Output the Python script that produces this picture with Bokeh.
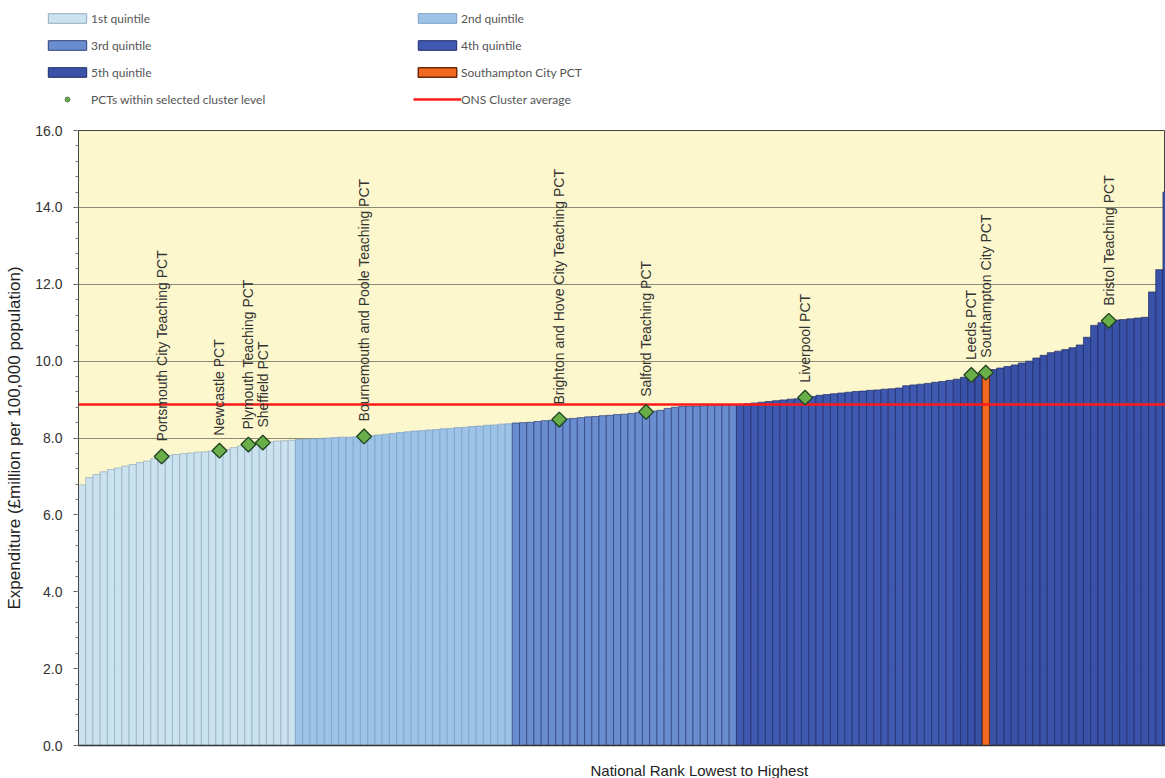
import math
import numpy as np
from bokeh.plotting import figure
from bokeh.layouts import column
from bokeh.models import (Range1d, SingleIntervalTicker, NumeralTickFormatter, FixedTicker,
                          Legend, LegendItem, Title)
from bokeh.core.properties import value
from bokeh.embed import file_html
from bokeh.resources import INLINE

# ---------------- data ----------------
expenditure = [
    # 1st quintile
    6.78, 6.97, 7.05, 7.12, 7.18, 7.22, 7.27, 7.31, 7.36, 7.40,
    7.46, 7.52, 7.55, 7.57, 7.59, 7.61, 7.63, 7.64, 7.66, 7.67,
    7.70, 7.75, 7.79, 7.83, 7.86, 7.88, 7.90, 7.92, 7.93, 7.94,
    # 2nd quintile
    7.96, 7.97, 7.98, 7.99, 8.00, 8.01, 8.02, 8.02, 8.03, 8.04,
    8.06, 8.08, 8.10, 8.12, 8.14, 8.16, 8.18, 8.19, 8.21, 8.22,
    8.24, 8.25, 8.27, 8.28, 8.30, 8.31, 8.33, 8.34, 8.36, 8.37,
    # 3rd quintile
    8.39, 8.40, 8.41, 8.43, 8.45, 8.46, 8.48, 8.50, 8.51, 8.53,
    8.55, 8.56, 8.58, 8.59, 8.61, 8.62, 8.64, 8.66, 8.68, 8.70,
    8.72, 8.77, 8.80, 8.82, 8.83, 8.83, 8.84, 8.84, 8.85, 8.85, 8.86,
    # 4th quintile
    8.87, 8.89, 8.91, 8.93, 8.95, 8.97, 8.99, 9.01, 9.02, 9.05,
    9.08, 9.11, 9.13, 9.15, 9.17, 9.19, 9.21, 9.22, 9.24, 9.25,
    9.27, 9.28, 9.30, 9.36, 9.38, 9.40, 9.42, 9.45, 9.47, 9.50,
    # 5th quintile (visible part)
    9.53, 9.58, 9.64, 9.66, 9.70, 9.78, 9.82, 9.86, 9.90, 9.95,
    10.00, 10.08, 10.15, 10.22, 10.26, 10.30, 10.35, 10.42, 10.62, 10.93,
    11.00, 11.05, 11.07, 11.08, 11.10, 11.12, 11.14, 11.80, 12.38, 14.40,
]

quintile_sizes = [30, 30, 31, 30, 31]
quintile_labels = ["1st quintile", "2nd quintile", "3rd quintile", "4th quintile", "5th quintile"]
quintile_fill = ["#cbe2ef", "#9dc3e6", "#6a8dd0", "#3f58b0", "#3a51a8"]
quintile_line = ["#93aac0", "#7d9fc4", "#2c3f78", "#1e2c68", "#1c2a64"]

cluster_names = [
    "Portsmouth City Teaching PCT", "Newcastle PCT", "Plymouth Teaching PCT",
    "Sheffield PCT", "Bournemouth and Poole Teaching PCT",
    "Brighton and Hove City Teaching PCT", "Salford Teaching PCT", "Liverpool PCT",
    "Leeds PCT", "Southampton City PCT", "Bristol Teaching PCT",
]
cluster_ranks = [11, 19, 23, 25, 39, 66, 78, 100, 123, 125, 142]

southampton_rank = 125
southampton_label = "Southampton City PCT"
cluster_marker_label = "PCTs within selected cluster level"
ons_label = "ONS Cluster average"
ons_cluster_average = 8.87

y_title = "Expenditure (£million per 100,000 population)"
x_title = "National Rank Lowest to Highest"

SOTON_FILL, SOTON_LINE = "#f26a21", "#6e2a08"
ONS_COLOR = "#ff1a1a"
PCT_FILL, PCT_LINE = "#6aae4a", "#1d4020"


def no_align(fig):
    try:
        fig.frame_align = False
    except AttributeError:
        pass


# ---------------- main chart ----------------
n = len(expenditure)
p = figure(width=1165, height=632,
           x_range=Range1d(-0.5, 149.85), y_range=Range1d(0, 16),
           output_backend="svg", toolbar_location=None,
           min_border_left=78, min_border_right=0, min_border_top=8, min_border_bottom=9,
           background_fill_color="#fcf7cc", border_fill_color="white")
no_align(p)

p.outline_line_color = "#444444"
p.xgrid.grid_line_color = None
p.ygrid.grid_line_color = "#8c8c74"
p.ygrid.grid_line_width = 1

p.yaxis.ticker = SingleIntervalTicker(interval=2, num_minor_ticks=5)
p.yaxis.formatter = NumeralTickFormatter(format="0.0")
p.yaxis.axis_line_color = "#444444"
p.yaxis.major_tick_out = 5
p.yaxis.major_tick_in = 0
p.yaxis.minor_tick_out = 3
p.yaxis.minor_tick_in = 0
p.yaxis.major_tick_line_color = "#555555"
p.yaxis.minor_tick_line_color = "#777777"
p.yaxis.major_label_standoff = 11
p.yaxis.major_label_text_font = "Liberation Sans"
p.yaxis.major_label_text_font_size = "14px"
p.yaxis.major_label_text_color = "#333333"
p.yaxis.axis_label = y_title
p.yaxis.axis_label_text_font = "Liberation Sans"
p.yaxis.axis_label_text_font_size = "17px"
p.yaxis.axis_label_text_font_style = "normal"
p.yaxis.axis_label_text_color = "#222222"
p.yaxis.axis_label_standoff = 8

p.xaxis.ticker = FixedTicker(ticks=[])
p.xaxis.axis_line_color = "#333333"
p.xaxis.axis_line_width = 1.5

quintile_renderers = []
start = 0
for size, fill, line in zip(quintile_sizes, quintile_fill, quintile_line):
    idx = list(range(start, min(start + size, n)))
    r = p.vbar(x=idx, top=[expenditure[i] for i in idx], width=1.0, bottom=0,
               fill_color=fill, line_color=line, line_width=0.7)
    quintile_renderers.append(r)
    start += size

p.vbar(x=[southampton_rank], top=[expenditure[southampton_rank]], width=1.0, bottom=0,
       fill_color=SOTON_FILL, line_color=SOTON_LINE, line_width=1)

p.line(x=[-0.5, n - 0.5], y=[ons_cluster_average, ons_cluster_average],
       line_color=ONS_COLOR, line_width=2.5)

cluster_vals = [expenditure[i] for i in cluster_ranks]
p.scatter(x=cluster_ranks, y=cluster_vals, marker="square", angle=math.pi / 4,
          size=10.5, fill_color=PCT_FILL, line_color=PCT_LINE, line_width=1.3)

p.text(x=cluster_ranks, y=cluster_vals, text=cluster_names, angle=math.pi / 2,
       text_align="left", text_baseline="middle", y_offset=-15,
       text_font=value("Liberation Sans"), text_font_size="14px", text_color="#333333")

# ---------------- x-axis title strip ----------------
# (the original chart continued to the right of this crop, so its title centre lies right)
st = figure(width=1165, height=24, x_range=Range1d(0, 1), y_range=Range1d(0, 1),
            output_backend="svg", toolbar_location=None, min_border=0,
            x_axis_location=None, y_axis_location=None, outline_line_color=None,
            background_fill_color="white", border_fill_color="white")
st.xgrid.grid_line_color = None
st.ygrid.grid_line_color = None
no_align(st)
st.add_layout(Title(text=x_title, align="left", offset=590, standoff=0, vertical_align="bottom",
                    text_font="Liberation Sans", text_font_size="15px",
                    text_font_style="normal", text_color="#222222"), "below")

# ---------------- legend strip ----------------
lg = figure(width=1165, height=122, x_range=Range1d(0, 1), y_range=Range1d(0, 1),
            output_backend="svg", toolbar_location=None, min_border=0,
            x_axis_location=None, y_axis_location=None, outline_line_color=None,
            background_fill_color="white", border_fill_color="white")
lg.xgrid.grid_line_color = None
lg.ygrid.grid_line_color = None
no_align(lg)

# legend proxies: one undrawn (NaN) point each, only their styles are used by the legend
nan1 = np.array([np.nan])
leg_q = [lg.vbar(x=nan1, top=nan1, width=1, fill_color=f, line_color=l, line_width=1)
         for f, l in zip(quintile_fill, quintile_line)]
leg_soton = lg.vbar(x=nan1, top=nan1, width=1, fill_color=SOTON_FILL, line_color=SOTON_LINE,
                    line_width=1.5)
leg_pct = lg.scatter(x=nan1, y=nan1, marker="circle", size=5, fill_color=PCT_FILL,
                     line_color="#4a7a4a")
leg_ons = lg.line(x=nan1, y=nan1, line_color=ONS_COLOR, line_width=2.5)

items = [
    LegendItem(label=quintile_labels[0], renderers=[leg_q[0]]),
    LegendItem(label=quintile_labels[1], renderers=[leg_q[1]]),
    LegendItem(label=quintile_labels[2], renderers=[leg_q[2]]),
    LegendItem(label=quintile_labels[3], renderers=[leg_q[3]]),
    LegendItem(label=quintile_labels[4], renderers=[leg_q[4]]),
    LegendItem(label=southampton_label, renderers=[leg_soton]),
    LegendItem(label=cluster_marker_label, renderers=[leg_pct]),
    LegendItem(label=ons_label, renderers=[leg_ons]),
]
legend = Legend(items=items, location=(43, 13), orientation="horizontal", ncols=2,
                border_line_color=None, background_fill_alpha=0, padding=0, margin=0,
                glyph_width=48, glyph_height=12, label_height=20, label_width=315,
                label_standoff=0, spacing=7,
                label_text_font="Lato", label_text_font_size="12px", label_text_color="#555555")
lg.add_layout(legend)

layout = column(lg, p, st, spacing=0)
open("out.html", "w").write(file_html(layout, INLINE))
